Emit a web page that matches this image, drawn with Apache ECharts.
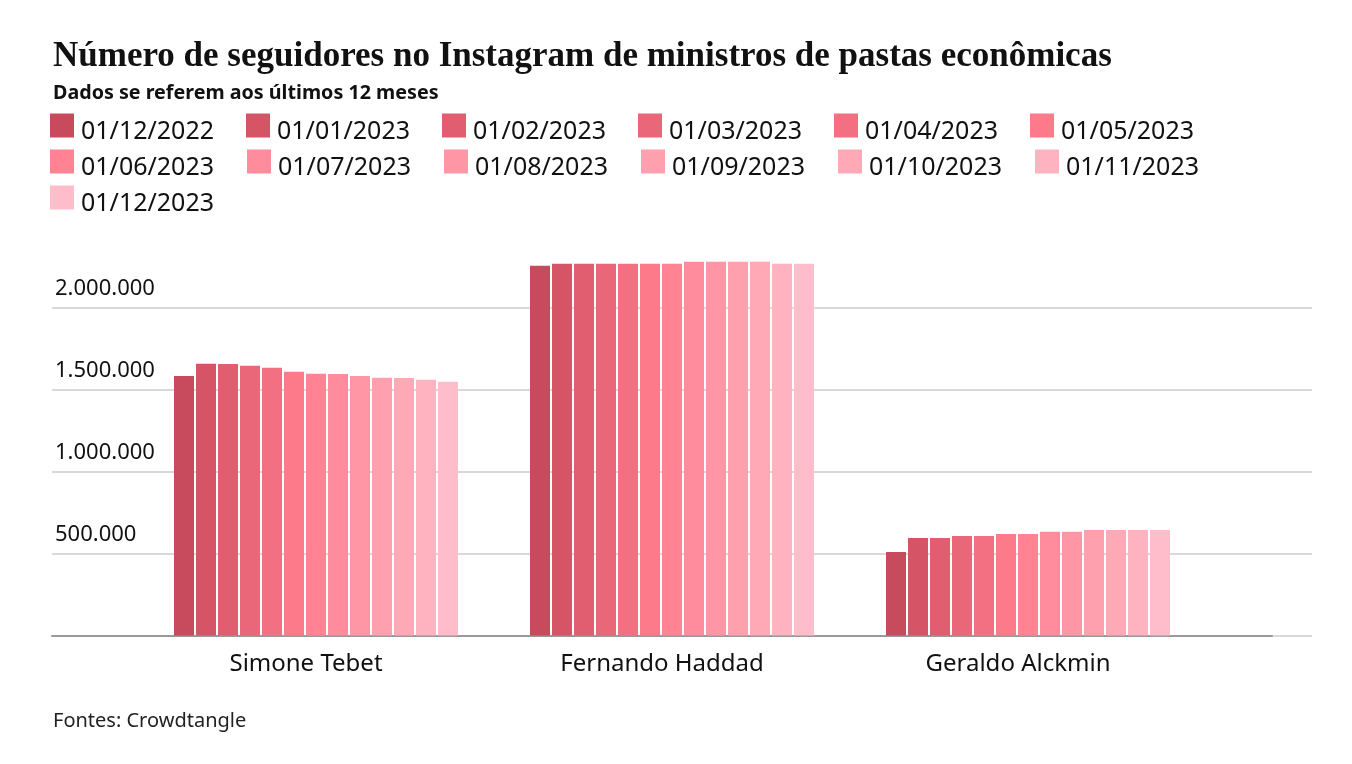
<!DOCTYPE html>
<html>
<head>
<meta charset="utf-8">
<script src="https://cdn.jsdelivr.net/npm/echarts@6/dist/echarts.min.js"></script>
<style>
html,body{margin:0;padding:0;background:#fff;}
#chart{width:1352px;height:764px;}
</style>
</head>
<body>
<div id="chart"></div>
<script>
const categories = ['Simone Tebet', 'Fernando Haddad', 'Geraldo Alckmin'];
const dates = ['01/12/2022','01/01/2023','01/02/2023','01/03/2023','01/04/2023','01/05/2023',
               '01/06/2023','01/07/2023','01/08/2023','01/09/2023','01/10/2023','01/11/2023','01/12/2023'];
const tebet   = [1583000,1657000,1656000,1645000,1632000,1608000,1596000,1595000,1583000,1571000,1570000,1559000,1547000];
const haddad  = [2254000,2267000,2267000,2267000,2267000,2267000,2267000,2279000,2279000,2279000,2279000,2267000,2267000];
const alckmin = [509000,595000,595000,607000,607000,619000,619000,632000,632000,644000,644000,644000,644000];
const colors = ['#c84b5d','#d55567','#e05e70','#e96779','#f27081','#fd7a8a','#ff8393',
                '#ff8c9d','#ff96a6','#ffa0ae','#ffa9b7','#ffb3c1','#ffbdcb'];

const Y_MAX = 2500000;
const TOP = 225.5, BOTTOM = 128.5;
const fmt = v => String(v).replace(/\B(?=(\d{3})+(?!\d))/g, '.');

const series = dates.map((d, i) => ({
  name: d,
  type: 'bar',
  xAxisIndex: 1,
  yAxisIndex: 1,
  barWidth: 20,
  barGap: '10%',
  itemStyle: { color: colors[i] },
  data: [tebet[i], haddad[i], alckmin[i]]
}));

const legendBase = {
  left: 50, padding: 0, itemWidth: 24, itemHeight: 24, itemGap: 32, icon: 'rect',
  selectedMode: false,
  formatter: name => '{t|' + name + '}',
  textStyle: {
    fontFamily: 'Noto Sans', fontSize: 25, color: '#111',
    rich: { t: { fontFamily: 'Noto Sans', fontSize: 25, color: '#111', lineHeight: 26, padding: [12, 0, 0, 2] } }
  }
};

const chart = echarts.init(document.getElementById('chart'), null, { renderer: 'canvas' });
chart.setOption({
  animation: false,
  backgroundColor: '#fff',
  color: colors,
  graphic: [
    { type: 'text', left: 53, top: 39, style: { text: 'Número de seguidores no Instagram de ministros de pastas econômicas',
      font: 'bold 35px "Liberation Serif"', fill: '#111' } },
    { type: 'text', left: 53, top: 83, style: { text: 'Dados se referem aos últimos 12 meses',
      font: 'bold 19.7px "Noto Sans"', fill: '#111' } },
    { type: 'text', left: 53, top: 711, style: { text: 'Fontes: Crowdtangle',
      font: '20px "Noto Sans"', fill: '#222' } }
  ],
  legend: [
    Object.assign({}, legendBase, { top: 107, data: dates.slice(0, 6) }),
    Object.assign({}, legendBase, { top: 143, itemGap: 33, data: dates.slice(6, 12) }),
    Object.assign({}, legendBase, { top: 179, data: dates.slice(12) })
  ],
  grid: [
    { left: 52, right: 40, top: TOP, bottom: BOTTOM },
    { left: 138, right: 146, top: TOP, bottom: BOTTOM },
    { left: 52, right: 80, top: TOP, bottom: BOTTOM }
  ],
  xAxis: [
    { gridIndex: 0, type: 'value', min: 0, max: 1, show: false },
    { gridIndex: 1, type: 'category', data: categories,
      axisLine: { show: false }, axisTick: { show: false },
      axisLabel: { fontFamily: 'Noto Sans', fontSize: 24, color: '#111', margin: 17,
                   lineHeight: 24, padding: [0, 20, 0, 0] } },
    { gridIndex: 2, type: 'value', min: 0, max: 1, position: 'bottom',
      axisLine: { show: true, onZero: false, lineStyle: { color: '#999', width: 2 } },
      axisTick: { show: false }, axisLabel: { show: false }, splitLine: { show: false } }
  ],
  yAxis: [
    { gridIndex: 0, type: 'value', min: 0, max: Y_MAX, interval: 500000,
      axisLine: { show: false }, axisTick: { show: false },
      splitLine: { show: true, lineStyle: { color: ['#cccccc','#cccccc','#cccccc','#cccccc','#cccccc','rgba(0,0,0,0)'], width: 1.5 } },
      axisLabel: { inside: true, margin: 3, verticalAlign: 'bottom', lineHeight: 22,
                   padding: [0, 0, 8, 0], fontFamily: 'Noto Sans', fontSize: 22, color: '#111',
                   formatter: v => (v === 0 || v === Y_MAX) ? '' : fmt(v) } },
    { gridIndex: 1, type: 'value', min: 0, max: Y_MAX, interval: 500000, show: false,
      splitLine: { show: false } },
    { gridIndex: 2, type: 'value', min: 0, max: 1, show: false, splitLine: { show: false } }
  ],
  series: series
});
</script>
</body>
</html>
